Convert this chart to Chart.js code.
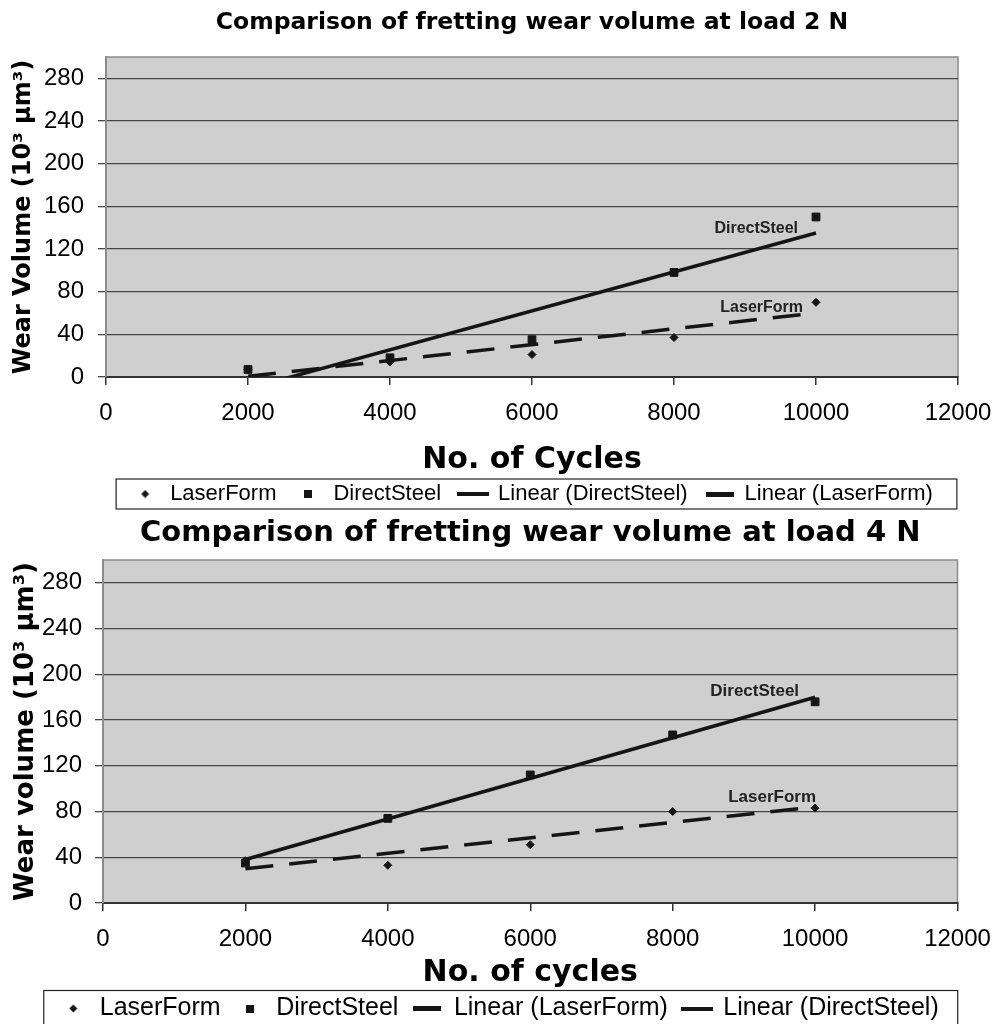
<!DOCTYPE html>
<html>
<head>
<meta charset="utf-8">
<title>Comparison of fretting wear volume</title>
<script src="https://cdn.jsdelivr.net/npm/chart.js@4.4.0/dist/chart.umd.min.js"></script>
<style>
  html, body { margin: 0; padding: 0; background: #fff; overflow: hidden; }
  #wrap { position: relative; width: 998px; height: 1024px; }
  canvas { position: absolute; left: 0; }
  #chart2N { top: 0; }
  #chart4N { top: 506px; }
</style>
</head>
<body>
<div id="wrap">
  <canvas id="chart2N" width="998" height="516"></canvas>
  <canvas id="chart4N" width="998" height="525"></canvas>
</div>
<script>
// Number of cycles where the wear was measured
const cycles = [2000, 4000, 6000, 8000, 10000];
const xTicks = [0, 2000, 4000, 6000, 8000, 10000, 12000];
const yTicks = [0, 40, 80, 120, 160, 200, 240, 280];

// Load 2 N, wear volume in 10^3 um^3
const laserForm2N = [7, 14, 21, 37, 70];
const directSteel2N = [7, 18, 35, 98, 150];

// Load 4 N
const laserForm4N = [37, 33, 51, 80, 83];
const directSteel4N = [35, 74, 112, 147, 176];

// Trendline end values, at the first and last cycle count
const trendCycles = [2000, 10000];
const laserFormTrend2N = [0.6, 60];
const directSteelTrend2N = [-11, 135];
const laserFormTrend4N = [30, 84];
const directSteelTrend4N = [38, 180];

Chart.defaults.font.family = '"Liberation Sans", Arial, sans-serif';
Chart.defaults.color = '#000';

const ink = '#151515';

function toPoints(xs, ys) {
  return xs.map((x, i) => ({ x: x, y: ys[i] }));
}

// Small pictures used as the legend symbols (Excel style)
function makeIcon(kind) {
  let c = document.createElement('canvas');
  let ctx = c.getContext('2d');
  if (kind === 'diamond') {
    c.width = 9; c.height = 9;
    ctx.fillStyle = ink;
    ctx.beginPath();
    ctx.moveTo(4.5, 0.5); ctx.lineTo(8.5, 4.5); ctx.lineTo(4.5, 8.5); ctx.lineTo(0.5, 4.5);
    ctx.closePath();
    ctx.fill();
  } else if (kind === 'square') {
    c.width = 8; c.height = 8;
    ctx.fillStyle = ink;
    ctx.fillRect(0, 0, 8, 8);
  } else if (kind === 'solid') {
    c.width = 32; c.height = 4;
    ctx.fillStyle = ink;
    ctx.fillRect(0, 0, 32, 4);
  } else {
    c.width = 28; c.height = 5;
    ctx.fillStyle = ink;
    ctx.fillRect(0, 0, 28, 5);
  }
  return c;
}
const icons = {
  diamond: makeIcon('diamond'),
  square: makeIcon('square'),
  solid: makeIcon('solid'),
  dashed: makeIcon('dashed')
};

function pointSet(label, values, style, radius, icon) {
  return {
    label: label,
    data: toPoints(cycles, values),
    pointStyle: style,
    pointRadius: radius,
    pointHoverRadius: radius,
    backgroundColor: ink,
    borderColor: ink,
    borderWidth: 1,
    showLine: false,
    legendIcon: icon
  };
}

function trendSet(label, values, dash) {
  return {
    label: label,
    data: toPoints(trendCycles, values),
    showLine: true,
    pointRadius: 0,
    pointHoverRadius: 0,
    borderColor: ink,
    backgroundColor: ink,
    borderWidth: 3.5,
    borderDash: dash,
    clip: 0,
    fill: false,
    legendIcon: dash.length ? 'dashed' : 'solid'
  };
}

// grey plot area with its frame
const plotFrame = {
  id: 'plotFrame',
  beforeDraw(chart) {
    let a = chart.chartArea;
    let ctx = chart.ctx;
    ctx.save();
    ctx.fillStyle = '#cfcfcf';
    ctx.fillRect(a.left, a.top, a.right - a.left, a.bottom - a.top);
    ctx.strokeStyle = '#8c8c8c';
    ctx.lineWidth = 1.5;
    ctx.strokeRect(a.left, a.top, a.right - a.left, a.bottom - a.top);
    ctx.restore();
  }
};

// the series names written next to the end of each trendline
const trendLabels = {
  id: 'trendLabels',
  afterDatasetsDraw(chart, args, opts) {
    let ctx = chart.ctx;
    ctx.save();
    ctx.font = 'bold ' + opts.size + 'px "Liberation Sans", Arial, sans-serif';
    ctx.fillStyle = '#222';
    ctx.textAlign = 'right';
    ctx.textBaseline = 'middle';
    (opts.items || []).forEach(item => {
      let meta = chart.getDatasetMeta(item.dataset);
      let last = meta.data[meta.data.length - 1];
      ctx.fillText(item.text, last.x + item.dx, last.y + item.dy);
    });
    ctx.restore();
  }
};

// box drawn round the legend row
const legendFrame = {
  id: 'legendFrame',
  afterDraw(chart, args, opts) {
    let boxes = chart.legend.legendHitBoxes;
    if (!boxes || !boxes.length) return;
    let first = boxes[0];
    let last = boxes[boxes.length - 1];
    let mid = first.top + first.height / 2;
    let ctx = chart.ctx;
    ctx.save();
    ctx.strokeStyle = '#222';
    ctx.lineWidth = 1.2;
    let x0 = first.left - opts.left;
    let x1 = last.left + last.width + opts.right;
    ctx.strokeRect(x0, mid - opts.half, x1 - x0, opts.half * 2);
    ctx.restore();
  }
};

function buildOptions(cfg) {
  return {
    responsive: false,
    animation: false,
    events: [],
    layout: { padding: { top: 0, left: cfg.left, right: cfg.right, bottom: cfg.bottom } },
    plugins: {
      tooltip: { enabled: false },
      title: {
        display: true,
        text: cfg.title,
        fullSize: false,
        color: '#000',
        font: { family: '"DejaVu Sans", sans-serif', weight: 'bold', size: cfg.titleSize, lineHeight: 1.2 },
        padding: cfg.titlePadding
      },
      legend: {
        position: 'bottom',
        fullSize: cfg.legendFull,
        labels: {
          usePointStyle: true,
          pointStyleWidth: 28,
          padding: cfg.legendPadding,
          color: '#000',
          font: { size: cfg.legendSize },
          generateLabels(chart) {
            let items = Chart.defaults.plugins.legend.labels.generateLabels(chart);
            items.forEach(it => {
              it.pointStyle = icons[chart.data.datasets[it.datasetIndex].legendIcon];
            });
            return items;
          }
        }
      },
      trendLabels: { size: cfg.labelSize, items: cfg.trendLabels },
      legendFrame: cfg.legendFrame
    },
    scales: {
      x: {
        type: 'linear',
        min: 0,
        max: 12000,
        afterBuildTicks: s => { s.ticks = xTicks.map(v => ({ value: v })); },
        afterFit: s => { s.height = cfg.xHeight; },
        grid: { drawOnChartArea: false, drawTicks: true, tickLength: 8, color: '#333', lineWidth: 1.5 },
        border: { color: '#333', width: 2 },
        ticks: {
          color: '#000',
          font: { size: 24, lineHeight: 1.9 },
          padding: 6,
          maxRotation: 0,
          autoSkip: false,
          callback: v => String(v)
        },
        title: {
          display: true,
          text: cfg.xTitle,
          color: '#000',
          font: { family: '"DejaVu Sans", sans-serif', weight: 'bold', size: 30, lineHeight: 1.2 },
          padding: { top: 0, bottom: cfg.xTitleShift }
        }
      },
      y: {
        type: 'linear',
        min: 0,
        max: 300,
        afterBuildTicks: s => { s.ticks = yTicks.map(v => ({ value: v })); },
        afterFit: s => { s.width = cfg.yWidth; },
        grid: { color: '#474747', lineWidth: 1.3, tickLength: 8 },
        border: { color: '#8c8c8c', width: 2 },
        ticks: { color: '#000', font: { size: 24 }, padding: cfg.yPad, autoSkip: false, callback: v => String(v) },
        title: {
          display: true,
          text: cfg.yTitle,
          color: '#000',
          font: { family: '"DejaVu Sans", sans-serif', weight: 'bold', size: cfg.yTitleSize, lineHeight: 1.2 },
          padding: { top: cfg.yTitlePad, bottom: 0 }
        }
      }
    }
  };
}

// Load 2 N
new Chart(document.getElementById('chart2N'), {
  type: 'scatter',
  data: {
    datasets: [
      pointSet('LaserForm', laserForm2N, 'rectRot', 4, 'diamond'),
      pointSet('DirectSteel', directSteel2N, 'rect', 5.5, 'square'),
      trendSet('Linear (DirectSteel)', directSteelTrend2N, []),
      trendSet('Linear (LaserForm)', laserFormTrend2N, [28, 16])
    ]
  },
  options: buildOptions({
    title: 'Comparison of fretting wear volume at load 2 N',
    titleSize: 23.5,
    titlePadding: { top: 9, bottom: 19.8 },
    left: 0,
    right: 40,
    bottom: 1,
    legendFull: false,
    legendPadding: 18,
    legendSize: 22,
    legendFrame: { left: 15, right: 24, half: 15 },
    xHeight: 88,
    xTitle: 'No. of Cycles',
    xTitleShift: -13,
    yWidth: 106,
    yPad: 14,
    yTitle: 'Wear Volume (10³ µm³)',
    yTitleSize: 24,
    yTitlePad: 9,
    labelSize: 16,
    trendLabels: [
      { dataset: 2, text: 'DirectSteel', dx: -18, dy: -4 },
      { dataset: 3, text: 'LaserForm', dx: -13, dy: -5 }
    ]
  }),
  plugins: [plotFrame, trendLabels, legendFrame]
});

// Load 4 N
new Chart(document.getElementById('chart4N'), {
  type: 'scatter',
  data: {
    datasets: [
      pointSet('LaserForm', laserForm4N, 'rectRot', 4, 'diamond'),
      pointSet('DirectSteel', directSteel4N, 'rect', 5.5, 'square'),
      trendSet('Linear (LaserForm)', laserFormTrend4N, [28, 16]),
      trendSet('Linear (DirectSteel)', directSteelTrend4N, [])
    ]
  },
  options: buildOptions({
    title: 'Comparison of fretting wear volume at load 4 N',
    titleSize: 29,
    titlePadding: { top: 9.6, bottom: 9.6 },
    left: 40.5,
    right: 40.5,
    bottom: 0,
    legendFull: true,
    legendPadding: 15,
    legendSize: 25,
    legendFrame: { left: 15.5, right: 19, half: 18 },
    xHeight: 78,
    xTitle: 'No. of cycles',
    xTitleShift: -10,
    yWidth: 62.5,
    yPad: 13,
    yTitle: 'Wear volume (10³ µm³)',
    yTitleSize: 26,
    yTitlePad: -30,
    labelSize: 17,
    trendLabels: [
      { dataset: 3, text: 'DirectSteel', dx: -16, dy: -5.5 },
      { dataset: 2, text: 'LaserForm', dx: 1, dy: -10 }
    ]
  }),
  plugins: [plotFrame, trendLabels, legendFrame]
});
</script>
</body>
</html>
